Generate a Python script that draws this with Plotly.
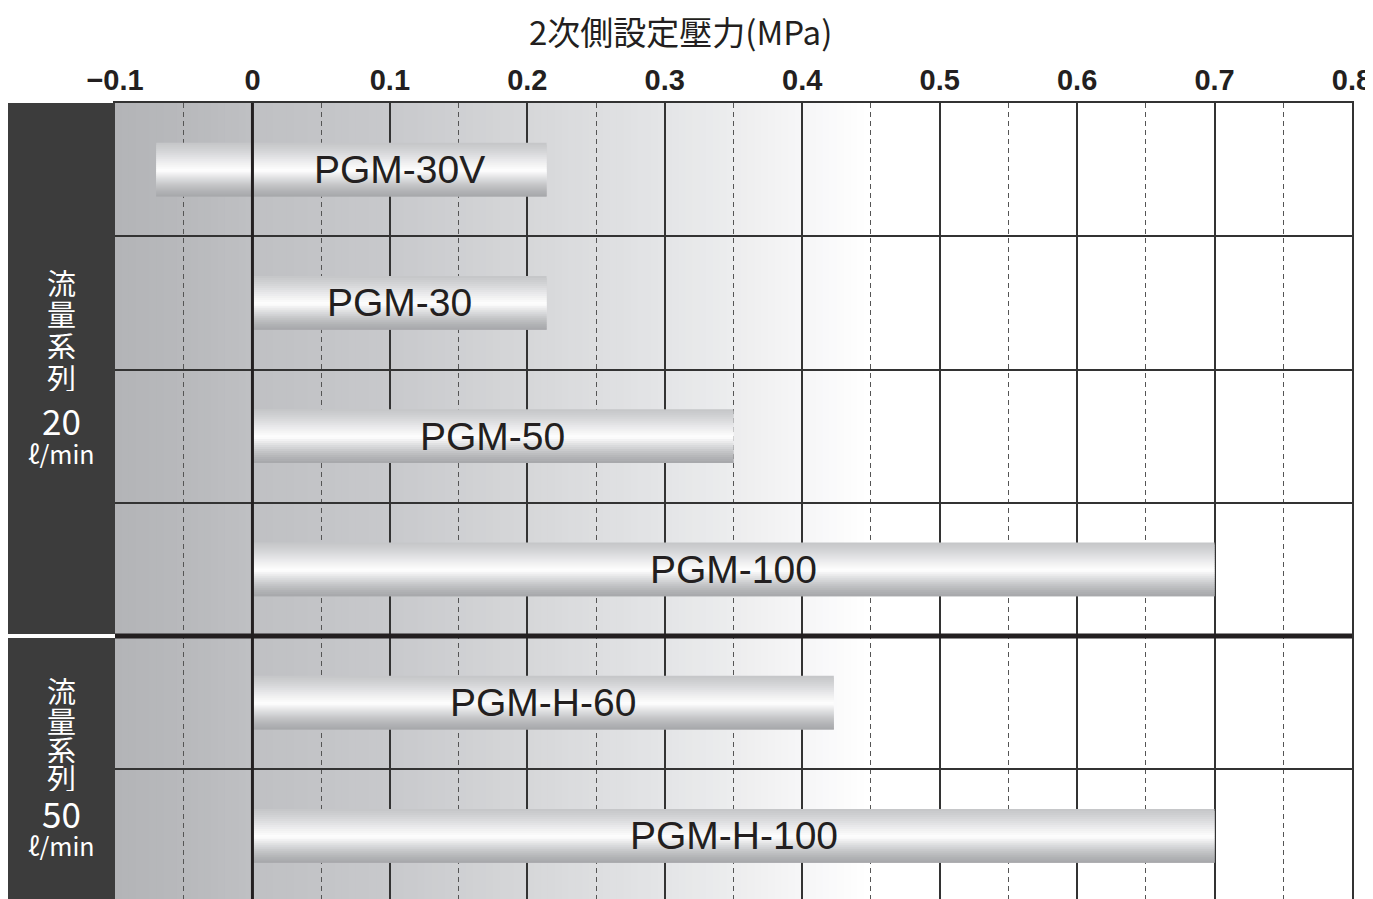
import plotly.graph_objects as go

# ---------------- data ----------------
models = ["PGM-30V", "PGM-30", "PGM-50", "PGM-100", "PGM-H-60", "PGM-H-100"]
range_min = [-0.07, 0.0, 0.0, 0.0, 0.0, 0.0]
range_max = [0.214, 0.214, 0.35, 0.70, 0.423, 0.70]
rows = [0, 1, 2, 3, 4, 5]

x_tick_vals = [-0.1, 0.0, 0.1, 0.2, 0.3, 0.4, 0.5, 0.6, 0.7, 0.8]
x_tick_text = ["\u22120.1", "0", "0.1", "0.2", "0.3", "0.4", "0.5", "0.6", "0.7", "0.8"]
x_minor_vals = [-0.05, 0.05, 0.15, 0.25, 0.35, 0.45, 0.55, 0.65, 0.75]
axis_title = "2次側設定壓力(MPa)"

group_chars = ["流", "量", "系", "列"]
group_flow = ["20", "50"]
group_unit = "ℓ/min"

# ---------------- geometry / style ----------------
OFF = 8                      # page offset (body margin)
FIG_W, FIG_H = 1373, 891
M_L, M_R, M_T, M_B = 107, 29, 95, 0
PLOT_W = FIG_W - M_L - M_R
PLOT_H = FIG_H - M_T - M_B
ROW_PX = 133.25
Y_RANGE = [-0.5 + PLOT_H / ROW_PX, -0.5]
BAR_W = 0.405
INK = "#231f20"


def px_to_paper(px_page):
    return (px_page - OFF - M_L) / PLOT_W


def py_to_paper(py_page):
    return (FIG_H - M_B - (py_page - OFF)) / PLOT_H


def row_to_paper(yv):
    return (PLOT_H - (yv + 0.5) * ROW_PX) / PLOT_H


def hex_to_rgb(h):
    h = h.lstrip("#")
    return tuple(int(h[i:i + 2], 16) for i in (0, 2, 4))


def interp(stops, t):
    for (t0, c0), (t1, c1) in zip(stops[:-1], stops[1:]):
        if t0 <= t <= t1:
            f = 0 if t1 == t0 else (t - t0) / (t1 - t0)
            a, b = hex_to_rgb(c0), hex_to_rgb(c1)
            r = [round(a[k] + (b[k] - a[k]) * f) for k in range(3)]
            return "rgb(%d,%d,%d)" % tuple(r)
    return stops[-1][1]


bg_stops = [(-0.1, "#b3b4b7"), (-0.05, "#b8b9bc"), (0.0, "#bfc0c3"), (0.1, "#c8c9cc"),
            (0.2, "#d6d7d9"), (0.3, "#e4e5e7"), (0.35, "#ecedee"), (0.4, "#f6f6f7"),
            (0.45, "#ffffff"), (0.8, "#ffffff")]
bar_stops = [(0.0, "#c4c5c7"), (0.15, "#d3d4d6"), (0.3, "#e6e6e8"), (0.45, "#f8f8f8"),
             (0.52, "#ffffff"), (0.6, "#ececed"), (0.7, "#d6d7d9"), (0.8, "#c2c3c5"),
             (0.9, "#b2b3b6"), (1.0, "#a6a7aa")]

fig = go.Figure()

# metallic bars drawn as thin horizontal strips of the same bars
N = 27
lengths = [b - a for a, b in zip(range_min, range_max)]
for i in range(N):
    t = (i + 0.5) / N
    w = BAR_W / N * (2 if i < N - 1 else 1)
    fig.add_trace(go.Bar(
        y=rows, x=lengths, base=range_min, orientation="h",
        width=w, offset=-BAR_W / 2 + i * BAR_W / N,
        marker=dict(color=interp(bar_stops, t), line=dict(width=0)),
        hoverinfo="skip", showlegend=False,
    ))

shapes = []
# background gradient (below grid)
step = 0.005
xv = -0.1
while xv < 0.8 - 1e-9:
    shapes.append(dict(type="rect", xref="x", yref="paper", x0=xv, x1=xv + 2 * step,
                       y0=0, y1=1, fillcolor=interp(bg_stops, xv + step / 2),
                       line=dict(width=0), layer="below"))
    xv += step

panel_x0 = px_to_paper(OFF)
# left dark panel
shapes.append(dict(type="rect", xref="paper", yref="paper", x0=panel_x0, x1=0,
                   y0=0, y1=1, fillcolor="#3c3c3c", line=dict(width=0), layer="above"))
# white separator in panel
sep_y = row_to_paper(3.5)
shapes.append(dict(type="line", xref="paper", yref="paper", x0=panel_x0, x1=0,
                   y0=sep_y, y1=sep_y, line=dict(color="white", width=4), layer="above"))
# black separator in plot
shapes.append(dict(type="line", xref="paper", yref="paper", x0=0, x1=1,
                   y0=sep_y, y1=sep_y, line=dict(color=INK, width=5), layer="above"))
# zero line over bars
shapes.append(dict(type="line", xref="x", yref="paper", x0=0, x1=0, y0=0, y1=1,
                   line=dict(color=INK, width=3), layer="above"))

annotations = []
for m, r, hi in zip(models, rows, range_max):
    annotations.append(dict(x=hi / 2, y=r, xref="x", yref="y", text=m, showarrow=False,
                            font=dict(family="Liberation Sans, Arial", size=39, color=INK)))

annotations.append(dict(x=px_to_paper(680), y=py_to_paper(31), xref="paper", yref="paper",
                        text=axis_title, showarrow=False, xanchor="center", yanchor="middle",
                        font=dict(family="Noto Sans CJK JP", size=33, color=INK)))

panel_x = px_to_paper(61)
group_pys = [[282, 313, 345, 377, 419, 453], [690, 720, 749, 777, 812, 845]]
sizes = [29, 29, 29, 29, 35, 25]
heights = [30, 30, 28, 28, 34, 30]
for g, pys in enumerate(group_pys):
    texts = group_chars + [group_flow[g], group_unit]
    for txt, py, sz, h in zip(texts, pys, sizes, heights):
        annotations.append(dict(x=panel_x, y=py_to_paper(py), xref="paper", yref="paper",
                                text=txt, showarrow=False, xanchor="center", yanchor="middle",
                                height=h, valign="middle",
                                font=dict(family="Noto Sans CJK JP", size=sz, color="white")))

fig.update_layout(
    width=FIG_W, height=FIG_H,
    margin=dict(l=M_L, r=M_R, t=M_T, b=M_B, pad=0),
    paper_bgcolor="white", plot_bgcolor="white",
    barmode="overlay", showlegend=False,
    shapes=shapes, annotations=annotations,
    xaxis=dict(
        range=[-0.1, 0.8], side="top", tickmode="array", tickvals=x_tick_vals,
        ticktext=x_tick_text, ticks="", showgrid=True, gridcolor="#333333", gridwidth=1.5,
        zeroline=False, showline=True, linecolor="#333333", linewidth=1.5, mirror=False,
        tickfont=dict(family="Liberation Sans, Arial", size=29, color=INK, weight="bold"),
        minor=dict(tickmode="array", tickvals=x_minor_vals,
                   showgrid=True, gridcolor="#555555", gridwidth=1, griddash="5px,4px", ticks=""),
        fixedrange=True,
    ),
    yaxis=dict(
        range=Y_RANGE, tickmode="array", tickvals=[0.5, 1.5, 2.5, 4.5], showticklabels=False,
        ticks="", showgrid=True, gridcolor="#333333", gridwidth=1.5, zeroline=False,
        showline=True, linecolor="#333333", linewidth=1.5, mirror=True, fixedrange=True,
    ),
)

fig.write_html("out.html", post_script="document.body.style.overflow='hidden';")
